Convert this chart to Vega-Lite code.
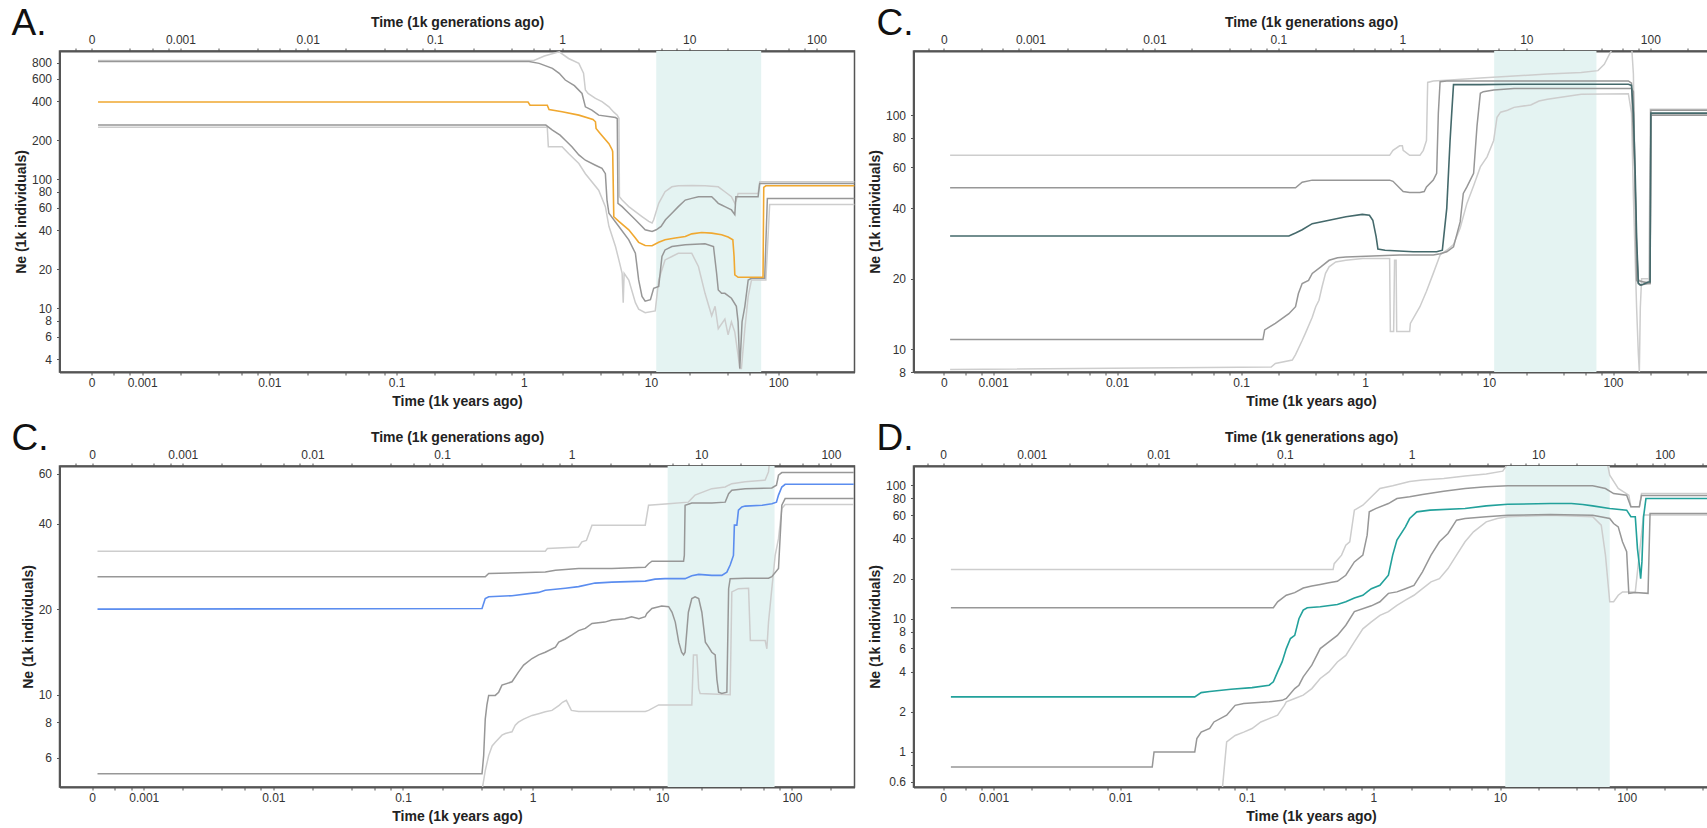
{
"$schema": "https://vega.github.io/schema/vega-lite/v6.json",
"padding": {"left": 10.5, "top": 3, "right": 0, "bottom": 0},
"background": "white",
"columns": 2,
"spacing": {"row": 94, "column": 59},
"bounds": "flush",
"config": {
  "view": {"stroke": "#555555", "strokeWidth": 1.5},
  "axis": {"grid": false, "domainColor": "#555555", "domainWidth": 2, "tickColor": "#555555", "tickWidth": 1, "tickSize": 3,
    "labelFont": "Liberation Sans, Arial, sans-serif", "labelFontSize": 12, "labelColor": "#333333",
    "titleFont": "Liberation Sans, Arial, sans-serif", "titleFontSize": 14, "titleFontWeight": "bold", "titleColor": "#222222",
    "labelOverlap": false, "labelFlush": false},
  "axisY": {"titleFontSize": 14, "labelPadding": 5, "titlePadding": 3},
  "axisBottom": {"labelPadding": 2, "titlePadding": 6},
  "axisTop": {"labelPadding": 1.5, "titlePadding": 4},
  "title": {"anchor": "start", "frame": "group", "fontSize": 37, "fontWeight": "normal", "font": "Liberation Sans, Arial, sans-serif", "color": "#111111", "offset": 0, "baseline": "alphabetic", "dy": 31}
},
"datasets": {
"band": [{"t": 11, "t2": 73.5}],
"A": [
{"s":"m","t":0.00045,"n":396},{"s":"m","t":1.08,"n":396},{"s":"m","t":1.12,"n":374},{"s":"m","t":1.53,"n":374},{"s":"m","t":1.58,"n":346},{"s":"m","t":2.0,"n":333},{"s":"m","t":2.71,"n":313},{"s":"m","t":3.5,"n":290},{"s":"m","t":3.66,"n":278},{"s":"m","t":3.7,"n":247},{"s":"m","t":4.0,"n":225},{"s":"m","t":4.67,"n":188},{"s":"m","t":4.96,"n":168},{"s":"m","t":5.0,"n":163},{"s":"m","t":5.1,"n":51},{"s":"m","t":5.59,"n":46.9},{"s":"m","t":6.69,"n":40.4},{"s":"m","t":7.54,"n":34.9},{"s":"m","t":8.0,"n":32.3},{"s":"m","t":9.0,"n":30.5},{"s":"m","t":10.2,"n":30.4},{"s":"m","t":11.5,"n":32.3},{"s":"m","t":12.9,"n":33.8},{"s":"m","t":15.5,"n":34.9},{"s":"m","t":18.6,"n":35.9},{"s":"m","t":20.9,"n":37.6},{"s":"m","t":25,"n":38.5},{"s":"m","t":30,"n":38.1},{"s":"m","t":35.9,"n":37.0},{"s":"m","t":40.4,"n":35.5},{"s":"m","t":44,"n":33.8},{"s":"m","t":45,"n":25.1},{"s":"m","t":45.6,"n":18.1},{"s":"m","t":48.4,"n":17.3},{"s":"m","t":76.0,"n":17.3},{"s":"m","t":77,"n":86.3},{"s":"m","t":80,"n":88.7},{"s":"m","t":400,"n":88.7},
{"s":"u50","t":0.00045,"n":815},{"s":"u50","t":1.1,"n":815},{"s":"u50","t":1.32,"n":789},{"s":"u50","t":1.68,"n":722},{"s":"u50","t":1.9,"n":661},{"s":"u50","t":2.12,"n":586},{"s":"u50","t":2.5,"n":530},{"s":"u50","t":2.87,"n":461},{"s":"u50","t":3.05,"n":363},{"s":"u50","t":3.43,"n":342},{"s":"u50","t":3.88,"n":313},{"s":"u50","t":5.26,"n":300},{"s":"u50","t":5.43,"n":294},{"s":"u50","t":5.5,"n":64.8},{"s":"u50","t":5.93,"n":61.1},{"s":"u50","t":6.69,"n":54.3},{"s":"u50","t":7.54,"n":48.3},{"s":"u50","t":8.5,"n":42.9},{"s":"u50","t":9.0,"n":40.4},{"s":"u50","t":10.2,"n":39.2},{"s":"u50","t":11.0,"n":40.4},{"s":"u50","t":12.0,"n":42.9},{"s":"u50","t":13.0,"n":48.3},{"s":"u50","t":14.6,"n":54.3},{"s":"u50","t":16.4,"n":61.1},{"s":"u50","t":18.6,"n":68.7},{"s":"u50","t":20.9,"n":70.8},{"s":"u50","t":23.6,"n":72.9},{"s":"u50","t":30,"n":72.9},{"s":"u50","t":31.9,"n":68.7},{"s":"u50","t":33.8,"n":64.8},{"s":"u50","t":35.9,"n":62.9},{"s":"u50","t":38.1,"n":61.1},{"s":"u50","t":42.9,"n":57.6},{"s":"u50","t":45.6,"n":53},{"s":"u50","t":46.5,"n":72.9},{"s":"u50","t":69.5,"n":72.9},{"s":"u50","t":71.6,"n":92.5},{"s":"u50","t":400,"n":92.5},
{"s":"l50","t":0.00045,"n":262},{"s":"l50","t":1.49,"n":262},{"s":"l50","t":1.68,"n":240},{"s":"l50","t":1.93,"n":219},{"s":"l50","t":2.12,"n":200},{"s":"l50","t":2.39,"n":178},{"s":"l50","t":2.71,"n":154},{"s":"l50","t":3.05,"n":140},{"s":"l50","t":3.66,"n":128},{"s":"l50","t":4.12,"n":121},{"s":"l50","t":4.38,"n":110},{"s":"l50","t":4.51,"n":68.7},{"s":"l50","t":4.67,"n":54.3},{"s":"l50","t":5.59,"n":42.9},{"s":"l50","t":6.69,"n":33.8},{"s":"l50","t":7.54,"n":26.6},{"s":"l50","t":8.0,"n":16.5},{"s":"l50","t":8.5,"n":12.3},{"s":"l50","t":9.0,"n":11.3},{"s":"l50","t":9.9,"n":11.6},{"s":"l50","t":10.5,"n":14.2},{"s":"l50","t":11.5,"n":14.7},{"s":"l50","t":12.2,"n":25.1},{"s":"l50","t":12.9,"n":28.2},{"s":"l50","t":14.6,"n":30},{"s":"l50","t":18.6,"n":30.9},{"s":"l50","t":26.6,"n":31.5},{"s":"l50","t":31.0,"n":30},{"s":"l50","t":32.8,"n":18.6},{"s":"l50","t":33.8,"n":13.8},{"s":"l50","t":35.9,"n":13.0},{"s":"l50","t":38.1,"n":13.0},{"s":"l50","t":42.9,"n":11.9},{"s":"l50","t":46.9,"n":10.3},{"s":"l50","t":48.4,"n":7.8},{"s":"l50","t":49.9,"n":3.4},{"s":"l50","t":52.0,"n":7.8},{"s":"l50","t":54.7,"n":10.3},{"s":"l50","t":58.1,"n":16.5},{"s":"l50","t":61.7,"n":17.0},{"s":"l50","t":78.3,"n":17.0},{"s":"l50","t":82.2,"n":70.8},{"s":"l50","t":400,"n":70.8},
{"s":"u95","t":0.00045,"n":830},{"s":"u95","t":1.2,"n":830},{"s":"u95","t":1.45,"n":900},{"s":"u95","t":1.9,"n":970},{"s":"u95","t":2.25,"n":861},{"s":"u95","t":2.71,"n":789},{"s":"u95","t":2.95,"n":661},{"s":"u95","t":3.05,"n":490},{"s":"u95","t":3.2,"n":461},{"s":"u95","t":3.66,"n":422},{"s":"u95","t":4.12,"n":398},{"s":"u95","t":4.67,"n":363},{"s":"u95","t":5.1,"n":330},{"s":"u95","t":5.43,"n":313},{"s":"u95","t":5.6,"n":296},{"s":"u95","t":5.65,"n":72.9},{"s":"u95","t":5.93,"n":68.7},{"s":"u95","t":6.69,"n":61.1},{"s":"u95","t":7.54,"n":55.9},{"s":"u95","t":8.5,"n":51.2},{"s":"u95","t":9.6,"n":46.9},{"s":"u95","t":10.2,"n":45.6},{"s":"u95","t":10.5,"n":48.3},{"s":"u95","t":11.5,"n":64.8},{"s":"u95","t":12.9,"n":79.7},{"s":"u95","t":14.6,"n":87.1},{"s":"u95","t":16.4,"n":88.7},{"s":"u95","t":20.9,"n":89.3},{"s":"u95","t":26.6,"n":88.7},{"s":"u95","t":33.8,"n":87.1},{"s":"u95","t":38.1,"n":79.7},{"s":"u95","t":42.9,"n":72.9},{"s":"u95","t":45.6,"n":64.8},{"s":"u95","t":46.9,"n":68.7},{"s":"u95","t":48.4,"n":77.4},{"s":"u95","t":69.5,"n":77.4},{"s":"u95","t":71.6,"n":95.3},{"s":"u95","t":400,"n":95.3},
{"s":"l95","t":0.00045,"n":252},{"s":"l95","t":1.53,"n":252},{"s":"l95","t":1.56,"n":178},{"s":"l95","t":2.0,"n":178},{"s":"l95","t":2.25,"n":158},{"s":"l95","t":2.71,"n":132},{"s":"l95","t":3.05,"n":110},{"s":"l95","t":3.88,"n":82},{"s":"l95","t":4.38,"n":61},{"s":"l95","t":4.67,"n":43},{"s":"l95","t":5.26,"n":30},{"s":"l95","t":5.59,"n":23.6},{"s":"l95","t":5.93,"n":18.6},{"s":"l95","t":6.05,"n":11},{"s":"l95","t":6.15,"n":18.6},{"s":"l95","t":6.69,"n":16.5},{"s":"l95","t":7.54,"n":11},{"s":"l95","t":8.0,"n":9.8},{"s":"l95","t":9.0,"n":9.2},{"s":"l95","t":10.8,"n":9.5},{"s":"l95","t":11.5,"n":16.5},{"s":"l95","t":12.9,"n":23.6},{"s":"l95","t":14.6,"n":25.1},{"s":"l95","t":16.4,"n":26.6},{"s":"l95","t":20.9,"n":26.6},{"s":"l95","t":23.6,"n":21},{"s":"l95","t":26.6,"n":13},{"s":"l95","t":30,"n":8.7},{"s":"l95","t":31.9,"n":10.3},{"s":"l95","t":33.8,"n":6.9},{"s":"l95","t":38.1,"n":8.2},{"s":"l95","t":40.4,"n":6.2},{"s":"l95","t":42.9,"n":7.8},{"s":"l95","t":45.6,"n":6.5},{"s":"l95","t":48.4,"n":4.3},{"s":"l95","t":49.9,"n":3.4},{"s":"l95","t":51.4,"n":3.4},{"s":"l95","t":54.7,"n":6.9},{"s":"l95","t":58.1,"n":12.3},{"s":"l95","t":61.7,"n":16.5},{"s":"l95","t":80,"n":16.5},{"s":"l95","t":85.7,"n":63.6},{"s":"l95","t":400,"n":63.6}
],
"C1": [
{"s":"m","t":0.00045,"n":30.5},{"s":"m","t":0.243,"n":30.5},{"s":"m","t":0.275,"n":31.4},{"s":"m","t":0.311,"n":32.4},{"s":"m","t":0.375,"n":34.4},{"s":"m","t":0.513,"n":35.6},{"s":"m","t":0.701,"n":36.8},{"s":"m","t":0.95,"n":37.7},{"s":"m","t":1.085,"n":37.4},{"s":"m","t":1.155,"n":35.6},{"s":"m","t":1.229,"n":30.2},{"s":"m","t":1.27,"n":26.8},{"s":"m","t":1.45,"n":26.5},{"s":"m","t":2.44,"n":26.1},{"s":"m","t":3.78,"n":26.1},{"s":"m","t":4.2,"n":26.5},{"s":"m","t":4.29,"n":29.5},{"s":"m","t":4.56,"n":40},{"s":"m","t":4.85,"n":78},{"s":"m","t":5.0,"n":102},{"s":"m","t":5.17,"n":135},{"s":"m","t":5.5,"n":135},{"s":"m","t":8.51,"n":135},{"s":"m","t":15.9,"n":135.5},{"s":"m","t":55.4,"n":135.5},{"s":"m","t":133,"n":135.5},{"s":"m","t":141,"n":134},{"s":"m","t":146,"n":102},{"s":"m","t":151,"n":56.4},{"s":"m","t":155,"n":30.2},{"s":"m","t":160,"n":19.1},{"s":"m","t":168,"n":18.8},{"s":"m","t":193,"n":19.4},{"s":"m","t":199,"n":19.4},{"s":"m","t":202,"n":102},{"s":"m","t":600,"n":102},
{"s":"u50","t":0.00045,"n":49},{"s":"u50","t":0.275,"n":49},{"s":"u50","t":0.311,"n":51.7},{"s":"u50","t":0.375,"n":52.8},{"s":"u50","t":1.578,"n":52.8},{"s":"u50","t":1.68,"n":52.2},{"s":"u50","t":1.9,"n":48.9},{"s":"u50","t":2.03,"n":47.2},{"s":"u50","t":2.29,"n":46.8},{"s":"u50","t":2.77,"n":46.8},{"s":"u50","t":3.0,"n":47.2},{"s":"u50","t":3.13,"n":49.4},{"s":"u50","t":3.55,"n":52.8},{"s":"u50","t":3.78,"n":56.4},{"s":"u50","t":3.9,"n":102},{"s":"u50","t":4.03,"n":139},{"s":"u50","t":4.56,"n":140},{"s":"u50","t":8.51,"n":140},{"s":"u50","t":133,"n":140},{"s":"u50","t":141,"n":137},{"s":"u50","t":146,"n":78},{"s":"u50","t":150,"n":56.4},{"s":"u50","t":155,"n":19.7},{"s":"u50","t":165,"n":18.8},{"s":"u50","t":193,"n":19.1},{"s":"u50","t":199,"n":19.1},{"s":"u50","t":202,"n":105},{"s":"u50","t":600,"n":105},
{"s":"u95","t":0.00045,"n":67.4},{"s":"u95","t":1.578,"n":67.4},{"s":"u95","t":1.68,"n":70.8},{"s":"u95","t":1.9,"n":74},{"s":"u95","t":2.0,"n":74},{"s":"u95","t":2.03,"n":70.8},{"s":"u95","t":2.29,"n":67.4},{"s":"u95","t":2.77,"n":67.4},{"s":"u95","t":2.95,"n":70.8},{"s":"u95","t":3.13,"n":78},{"s":"u95","t":3.2,"n":138},{"s":"u95","t":3.55,"n":140},{"s":"u95","t":4.56,"n":141},{"s":"u95","t":8.51,"n":144},{"s":"u95","t":15.9,"n":147},{"s":"u95","t":29.6,"n":150},{"s":"u95","t":55.4,"n":152},{"s":"u95","t":75.6,"n":155},{"s":"u95","t":85,"n":165},{"s":"u95","t":95,"n":185},{"s":"u95","t":103,"n":200},{"s":"u95","t":141,"n":200},{"s":"u95","t":146,"n":150},{"s":"u95","t":150,"n":60},{"s":"u95","t":155,"n":25},{"s":"u95","t":160,"n":20},{"s":"u95","t":165,"n":19.5},{"s":"u95","t":195,"n":19.5},{"s":"u95","t":200,"n":106},{"s":"u95","t":600,"n":106},
{"s":"l50","t":0.00045,"n":11.0},{"s":"l50","t":0.15,"n":11.0},{"s":"l50","t":0.155,"n":12.1},{"s":"l50","t":0.189,"n":12.9},{"s":"l50","t":0.243,"n":14.2},{"s":"l50","t":0.275,"n":15.2},{"s":"l50","t":0.29,"n":17.3},{"s":"l50","t":0.311,"n":19.1},{"s":"l50","t":0.35,"n":19.7},{"s":"l50","t":0.375,"n":21.1},{"s":"l50","t":0.44,"n":22.5},{"s":"l50","t":0.513,"n":24},{"s":"l50","t":0.6,"n":24.6},{"s":"l50","t":0.701,"n":24.8},{"s":"l50","t":1.9,"n":25.3},{"s":"l50","t":3.55,"n":25.3},{"s":"l50","t":4.03,"n":25.6},{"s":"l50","t":4.56,"n":26.1},{"s":"l50","t":5.17,"n":27.4},{"s":"l50","t":5.85,"n":35},{"s":"l50","t":6.2,"n":46.3},{"s":"l50","t":6.63,"n":49.4},{"s":"l50","t":7.51,"n":56.4},{"s":"l50","t":8.0,"n":90},{"s":"l50","t":8.51,"n":124},{"s":"l50","t":9.0,"n":126},{"s":"l50","t":10.9,"n":128},{"s":"l50","t":15.9,"n":130},{"s":"l50","t":141,"n":130},{"s":"l50","t":146,"n":126},{"s":"l50","t":150,"n":56.4},{"s":"l50","t":155,"n":27.4},{"s":"l50","t":160,"n":19.7},{"s":"l50","t":193,"n":19.1},{"s":"l50","t":199,"n":19.1},{"s":"l50","t":202,"n":100},{"s":"l50","t":600,"n":100},
{"s":"l95","t":0.00045,"n":8.2},{"s":"l95","t":0.175,"n":8.4},{"s":"l95","t":0.189,"n":8.7},{"s":"l95","t":0.259,"n":9.0},{"s":"l95","t":0.275,"n":9.5},{"s":"l95","t":0.311,"n":10.9},{"s":"l95","t":0.33,"n":11.7},{"s":"l95","t":0.375,"n":13.7},{"s":"l95","t":0.40,"n":15.2},{"s":"l95","t":0.425,"n":16.2},{"s":"l95","t":0.45,"n":18.5},{"s":"l95","t":0.48,"n":21.1},{"s":"l95","t":0.513,"n":22.5},{"s":"l95","t":0.58,"n":23.6},{"s":"l95","t":0.70,"n":24.0},{"s":"l95","t":0.96,"n":24.4},{"s":"l95","t":1.578,"n":24.4},{"s":"l95","t":1.6,"n":11.9},{"s":"l95","t":1.7,"n":11.9},{"s":"l95","t":1.73,"n":24.0},{"s":"l95","t":1.78,"n":24.0},{"s":"l95","t":1.8,"n":11.9},{"s":"l95","t":2.29,"n":11.9},{"s":"l95","t":2.32,"n":12.9},{"s":"l95","t":2.77,"n":15.2},{"s":"l95","t":3.13,"n":17.7},{"s":"l95","t":3.55,"n":21.1},{"s":"l95","t":4.03,"n":25.3},{"s":"l95","t":4.56,"n":26.5},{"s":"l95","t":5.17,"n":28},{"s":"l95","t":5.85,"n":33},{"s":"l95","t":6.63,"n":42},{"s":"l95","t":7.51,"n":50},{"s":"l95","t":8.51,"n":60.1},{"s":"l95","t":9.64,"n":66.4},{"s":"l95","t":10.9,"n":78},{"s":"l95","t":11.6,"n":98},{"s":"l95","t":12.4,"n":103},{"s":"l95","t":14.1,"n":105},{"s":"l95","t":15.9,"n":108},{"s":"l95","t":21.7,"n":110.6},{"s":"l95","t":25.3,"n":115},{"s":"l95","t":29.6,"n":117},{"s":"l95","t":40.5,"n":120},{"s":"l95","t":55.4,"n":123},{"s":"l95","t":133,"n":123.6},{"s":"l95","t":141,"n":102},{"s":"l95","t":146,"n":45},{"s":"l95","t":155,"n":15},{"s":"l95","t":160,"n":9.6},{"s":"l95","t":163,"n":8.0},{"s":"l95","t":166,"n":15},{"s":"l95","t":170,"n":20},{"s":"l95","t":199,"n":20},{"s":"l95","t":202,"n":101},{"s":"l95","t":600,"n":101}
],
"C2": [
{"s":"m","t":0.00044,"n":20.0},{"s":"m","t":0.407,"n":20.1},{"s":"m","t":0.431,"n":21.8},{"s":"m","t":0.458,"n":22.1},{"s":"m","t":0.693,"n":22.3},{"s":"m","t":1.112,"n":22.9},{"s":"m","t":1.252,"n":23.3},{"s":"m","t":1.786,"n":23.7},{"s":"m","t":2.26,"n":24.0},{"s":"m","t":3.03,"n":24.7},{"s":"m","t":4.09,"n":24.9},{"s":"m","t":7.39,"n":25.1},{"s":"m","t":8.8,"n":25.5},{"s":"m","t":10.5,"n":25.6},{"s":"m","t":15.0,"n":25.6},{"s":"m","t":16.9,"n":26.2},{"s":"m","t":19.1,"n":26.5},{"s":"m","t":24.1,"n":26.3},{"s":"m","t":28.8,"n":26.3},{"s":"m","t":31.5,"n":27.0},{"s":"m","t":33.4,"n":28.6},{"s":"m","t":35.4,"n":30.9},{"s":"m","t":36.0,"n":39.5},{"s":"m","t":37.6,"n":39.5},{"s":"m","t":38.7,"n":44.6},{"s":"m","t":41.1,"n":45.8},{"s":"m","t":43.6,"n":46.1},{"s":"m","t":59,"n":46.4},{"s":"m","t":70,"n":47},{"s":"m","t":76,"n":47.6},{"s":"m","t":78.8,"n":50.4},{"s":"m","t":83.6,"n":53.8},{"s":"m","t":88.7,"n":55},{"s":"m","t":300,"n":55},
{"s":"u50","t":0.00044,"n":26.0},{"s":"u50","t":0.431,"n":26.0},{"s":"u50","t":0.458,"n":26.7},{"s":"u50","t":1.252,"n":27.0},{"s":"u50","t":1.5,"n":27.4},{"s":"u50","t":2.26,"n":27.8},{"s":"u50","t":4.09,"n":27.8},{"s":"u50","t":7.39,"n":28.1},{"s":"u50","t":7.84,"n":28.9},{"s":"u50","t":8.32,"n":29.5},{"s":"u50","t":14.6,"n":29.5},{"s":"u50","t":14.8,"n":30.9},{"s":"u50","t":15.0,"n":46.4},{"s":"u50","t":16.9,"n":47.3},{"s":"u50","t":24.1,"n":47.3},{"s":"u50","t":30.6,"n":47.6},{"s":"u50","t":32.5,"n":51},{"s":"u50","t":34.4,"n":52.4},{"s":"u50","t":43.6,"n":53.1},{"s":"u50","t":70,"n":53.4},{"s":"u50","t":76,"n":54.6},{"s":"u50","t":78.8,"n":59.2},{"s":"u50","t":83.6,"n":60.5},{"s":"u50","t":300,"n":60.5},
{"s":"u95","t":0.00044,"n":32.0},{"s":"u95","t":1.252,"n":32.0},{"s":"u95","t":1.3,"n":32.7},{"s":"u95","t":2.26,"n":33.1},{"s":"u95","t":2.4,"n":34.5},{"s":"u95","t":2.6,"n":34.9},{"s":"u95","t":2.87,"n":39.5},{"s":"u95","t":7.39,"n":39.5},{"s":"u95","t":7.84,"n":46.4},{"s":"u95","t":11.2,"n":47},{"s":"u95","t":15.9,"n":47.6},{"s":"u95","t":17.9,"n":50.4},{"s":"u95","t":24.1,"n":53.1},{"s":"u95","t":30.6,"n":53.8},{"s":"u95","t":32.5,"n":54.6},{"s":"u95","t":34.4,"n":55.3},{"s":"u95","t":43.6,"n":56.1},{"s":"u95","t":62.2,"n":56.9},{"s":"u95","t":66,"n":60.8},{"s":"u95","t":68,"n":70},{"s":"u95","t":300,"n":70},
{"s":"l50","t":0.00044,"n":5.27},{"s":"l50","t":0.407,"n":5.27},{"s":"l50","t":0.419,"n":6.1},{"s":"l50","t":0.431,"n":8.2},{"s":"l50","t":0.444,"n":9.2},{"s":"l50","t":0.458,"n":9.94},{"s":"l50","t":0.515,"n":9.94},{"s":"l50","t":0.547,"n":10.2},{"s":"l50","t":0.58,"n":10.8},{"s":"l50","t":0.693,"n":11.1},{"s":"l50","t":0.777,"n":12.0},{"s":"l50","t":0.852,"n":12.7},{"s":"l50","t":0.99,"n":13.4},{"s":"l50","t":1.112,"n":13.8},{"s":"l50","t":1.252,"n":14.1},{"s":"l50","t":1.5,"n":14.7},{"s":"l50","t":1.59,"n":15.3},{"s":"l50","t":1.786,"n":15.7},{"s":"l50","t":2.0,"n":16.2},{"s":"l50","t":2.26,"n":16.8},{"s":"l50","t":2.55,"n":17.1},{"s":"l50","t":2.87,"n":17.8},{"s":"l50","t":3.6,"n":18.0},{"s":"l50","t":4.09,"n":18.3},{"s":"l50","t":5.15,"n":18.5},{"s":"l50","t":5.8,"n":18.8},{"s":"l50","t":6.6,"n":18.5},{"s":"l50","t":7.39,"n":18.8},{"s":"l50","t":7.6,"n":19.3},{"s":"l50","t":8.32,"n":20.1},{"s":"l50","t":9.9,"n":20.5},{"s":"l50","t":11.2,"n":20.4},{"s":"l50","t":11.9,"n":19.5},{"s":"l50","t":12.6,"n":18.0},{"s":"l50","t":13.4,"n":15.3},{"s":"l50","t":14.1,"n":14.1},{"s":"l50","t":14.6,"n":13.8},{"s":"l50","t":15.0,"n":14.1},{"s":"l50","t":15.9,"n":19.5},{"s":"l50","t":16.9,"n":21.8},{"s":"l50","t":17.9,"n":22.1},{"s":"l50","t":19.1,"n":21.8},{"s":"l50","t":20.2,"n":19.5},{"s":"l50","t":21.5,"n":15.3},{"s":"l50","t":22.8,"n":14.7},{"s":"l50","t":24.1,"n":14.1},{"s":"l50","t":25.6,"n":13.8},{"s":"l50","t":26.4,"n":11.3},{"s":"l50","t":27.2,"n":10.2},{"s":"l50","t":28.8,"n":10.1},{"s":"l50","t":31.5,"n":10.2},{"s":"l50","t":32.5,"n":23.6},{"s":"l50","t":33.4,"n":25.6},{"s":"l50","t":43.6,"n":25.7},{"s":"l50","t":66,"n":25.7},{"s":"l50","t":70,"n":26},{"s":"l50","t":78.8,"n":27.8},{"s":"l50","t":83.6,"n":46.4},{"s":"l50","t":88.7,"n":49},{"s":"l50","t":300,"n":49},
{"s":"l95","t":0.00044,"n":4.0},{"s":"l95","t":0.4,"n":4.0},{"s":"l95","t":0.407,"n":4.6},{"s":"l95","t":0.431,"n":5.4},{"s":"l95","t":0.458,"n":6.1},{"s":"l95","t":0.487,"n":6.6},{"s":"l95","t":0.515,"n":6.8},{"s":"l95","t":0.58,"n":7.2},{"s":"l95","t":0.616,"n":7.3},{"s":"l95","t":0.693,"n":7.4},{"s":"l95","t":0.734,"n":7.8},{"s":"l95","t":0.777,"n":8.0},{"s":"l95","t":0.852,"n":8.2},{"s":"l95","t":0.99,"n":8.45},{"s":"l95","t":1.112,"n":8.57},{"s":"l95","t":1.252,"n":8.7},{"s":"l95","t":1.41,"n":8.8},{"s":"l95","t":1.6,"n":9.17},{"s":"l95","t":1.7,"n":9.4},{"s":"l95","t":1.82,"n":9.55},{"s":"l95","t":1.99,"n":8.8},{"s":"l95","t":2.26,"n":8.73},{"s":"l95","t":7.39,"n":8.73},{"s":"l95","t":7.84,"n":8.8},{"s":"l95","t":9.37,"n":9.2},{"s":"l95","t":16.9,"n":9.2},{"s":"l95","t":17.4,"n":13.8},{"s":"l95","t":18.5,"n":13.8},{"s":"l95","t":19.1,"n":10.5},{"s":"l95","t":19.6,"n":10.1},{"s":"l95","t":33.4,"n":10.0},{"s":"l95","t":34.4,"n":23.0},{"s":"l95","t":38.7,"n":23.6},{"s":"l95","t":46.3,"n":23.7},{"s":"l95","t":47.8,"n":15.5},{"s":"l95","t":62.2,"n":15.5},{"s":"l95","t":64.1,"n":14.5},{"s":"l95","t":66,"n":18},{"s":"l95","t":70,"n":23.6},{"s":"l95","t":74.3,"n":30.9},{"s":"l95","t":78.8,"n":35.4},{"s":"l95","t":83.6,"n":45.2},{"s":"l95","t":88.7,"n":46.7},{"s":"l95","t":300,"n":46.7}
],
"D": [
{"s":"m","t":0.00046,"n":2.59},{"s":"m","t":0.0388,"n":2.59},{"s":"m","t":0.0436,"n":2.79},{"s":"m","t":0.0509,"n":2.84},{"s":"m","t":0.0749,"n":2.96},{"s":"m","t":0.11,"n":3.04},{"s":"m","t":0.15,"n":3.17},{"s":"m","t":0.162,"n":3.36},{"s":"m","t":0.175,"n":3.99},{"s":"m","t":0.19,"n":4.74},{"s":"m","t":0.205,"n":5.97},{"s":"m","t":0.221,"n":7.1},{"s":"m","t":0.239,"n":7.5},{"s":"m","t":0.258,"n":10.0},{"s":"m","t":0.279,"n":11.6},{"s":"m","t":0.30,"n":12.1},{"s":"m","t":0.38,"n":12.3},{"s":"m","t":0.519,"n":12.8},{"s":"m","t":0.605,"n":13.4},{"s":"m","t":0.707,"n":14.3},{"s":"m","t":0.825,"n":15.0},{"s":"m","t":0.892,"n":15.9},{"s":"m","t":0.963,"n":16.8},{"s":"m","t":1.125,"n":17.8},{"s":"m","t":1.313,"n":21.2},{"s":"m","t":1.419,"n":30},{"s":"m","t":1.533,"n":38.9},{"s":"m","t":1.789,"n":48.9},{"s":"m","t":1.933,"n":56.5},{"s":"m","t":2.2,"n":63.4},{"s":"m","t":2.8,"n":65.3},{"s":"m","t":5.29,"n":67.1},{"s":"m","t":7.78,"n":70.3},{"s":"m","t":11.5,"n":72.3},{"s":"m","t":24.9,"n":73.2},{"s":"m","t":36.6,"n":73.2},{"s":"m","t":45,"n":71.9},{"s":"m","t":53.9,"n":70.3},{"s":"m","t":73.5,"n":67.1},{"s":"m","t":100,"n":65.3},{"s":"m","t":108,"n":58.2},{"s":"m","t":117,"n":58.2},{"s":"m","t":121.7,"n":33.6},{"s":"m","t":126,"n":25.2},{"s":"m","t":129,"n":20.0},{"s":"m","t":132,"n":26.7},{"s":"m","t":136,"n":58.2},{"s":"m","t":142,"n":79.8},{"s":"m","t":450,"n":79.8},
{"s":"u50","t":0.00046,"n":12.1},{"s":"u50","t":0.162,"n":12.1},{"s":"u50","t":0.175,"n":13.4},{"s":"u50","t":0.205,"n":15.0},{"s":"u50","t":0.239,"n":15.7},{"s":"u50","t":0.279,"n":17.0},{"s":"u50","t":0.326,"n":17.6},{"s":"u50","t":0.38,"n":18.1},{"s":"u50","t":0.445,"n":18.6},{"s":"u50","t":0.519,"n":19.1},{"s":"u50","t":0.605,"n":21.2},{"s":"u50","t":0.707,"n":26.7},{"s":"u50","t":0.825,"n":30.0},{"s":"u50","t":0.892,"n":42.4},{"s":"u50","t":0.927,"n":63.4},{"s":"u50","t":1.04,"n":67.1},{"s":"u50","t":1.313,"n":73.2},{"s":"u50","t":1.533,"n":79.8},{"s":"u50","t":1.933,"n":82.2},{"s":"u50","t":2.44,"n":85.5},{"s":"u50","t":3.59,"n":90.6},{"s":"u50","t":5.29,"n":94.9},{"s":"u50","t":7.78,"n":97.7},{"s":"u50","t":11.5,"n":99.4},{"s":"u50","t":53.9,"n":99.4},{"s":"u50","t":68,"n":94.9},{"s":"u50","t":78.9,"n":87},{"s":"u50","t":100,"n":84.6},{"s":"u50","t":108,"n":69.1},{"s":"u50","t":126,"n":69.1},{"s":"u50","t":131,"n":84},{"s":"u50","t":450,"n":84},
{"s":"l50","t":0.00046,"n":0.77},{"s":"l50","t":0.0179,"n":0.77},{"s":"l50","t":0.0185,"n":1.0},{"s":"l50","t":0.0388,"n":1.0},{"s":"l50","t":0.0403,"n":1.26},{"s":"l50","t":0.0436,"n":1.41},{"s":"l50","t":0.0509,"n":1.5},{"s":"l50","t":0.055,"n":1.68},{"s":"l50","t":0.0693,"n":1.89},{"s":"l50","t":0.0809,"n":2.24},{"s":"l50","t":0.0945,"n":2.31},{"s":"l50","t":0.15,"n":2.38},{"s":"l50","t":0.19,"n":2.44},{"s":"l50","t":0.205,"n":2.52},{"s":"l50","t":0.239,"n":2.99},{"s":"l50","t":0.258,"n":3.17},{"s":"l50","t":0.279,"n":3.66},{"s":"l50","t":0.326,"n":4.48},{"s":"l50","t":0.38,"n":5.97},{"s":"l50","t":0.445,"n":6.7},{"s":"l50","t":0.519,"n":7.5},{"s":"l50","t":0.605,"n":8.94},{"s":"l50","t":0.707,"n":11.3},{"s":"l50","t":0.963,"n":12.5},{"s":"l50","t":1.125,"n":13.4},{"s":"l50","t":1.313,"n":15.5},{"s":"l50","t":1.533,"n":15.9},{"s":"l50","t":1.789,"n":16.8},{"s":"l50","t":2.09,"n":17.8},{"s":"l50","t":2.44,"n":22.5},{"s":"l50","t":2.85,"n":30},{"s":"l50","t":3.32,"n":37.8},{"s":"l50","t":3.88,"n":43.6},{"s":"l50","t":4.53,"n":54.9},{"s":"l50","t":5.29,"n":56.5},{"s":"l50","t":7.78,"n":58.2},{"s":"l50","t":11.5,"n":59.8},{"s":"l50","t":24.9,"n":60.5},{"s":"l50","t":53.9,"n":59.8},{"s":"l50","t":73.5,"n":56.5},{"s":"l50","t":78.9,"n":51.8},{"s":"l50","t":85.8,"n":48.9},{"s":"l50","t":92.7,"n":37.8},{"s":"l50","t":100,"n":31.8},{"s":"l50","t":104,"n":15.5},{"s":"l50","t":117,"n":15.7},{"s":"l50","t":147.5,"n":15.5},{"s":"l50","t":153,"n":61.6},{"s":"l50","t":450,"n":61.6},
{"s":"u95","t":0.00046,"n":23.4},{"s":"u95","t":0.48,"n":23.4},{"s":"u95","t":0.49,"n":25.9},{"s":"u95","t":0.56,"n":30.0},{"s":"u95","t":0.605,"n":35.6},{"s":"u95","t":0.65,"n":37.8},{"s":"u95","t":0.707,"n":65.3},{"s":"u95","t":0.825,"n":71.1},{"s":"u95","t":1.125,"n":94.9},{"s":"u95","t":1.419,"n":99.4},{"s":"u95","t":1.933,"n":107},{"s":"u95","t":2.44,"n":110},{"s":"u95","t":3.59,"n":113},{"s":"u95","t":5.29,"n":118},{"s":"u95","t":7.78,"n":122},{"s":"u95","t":10.5,"n":128},{"s":"u95","t":11.5,"n":145},{"s":"u95","t":70,"n":150},{"s":"u95","t":73.5,"n":119.5},{"s":"u95","t":85.8,"n":94.9},{"s":"u95","t":104,"n":84.6},{"s":"u95","t":108,"n":69.1},{"s":"u95","t":126,"n":69.1},{"s":"u95","t":131,"n":87},{"s":"u95","t":450,"n":87},
{"s":"l95","t":0.00046,"n":0.4},{"s":"l95","t":0.06,"n":0.4},{"s":"l95","t":0.0642,"n":0.54},{"s":"l95","t":0.0693,"n":1.19},{"s":"l95","t":0.0809,"n":1.33},{"s":"l95","t":0.0945,"n":1.41},{"s":"l95","t":0.11,"n":1.5},{"s":"l95","t":0.129,"n":1.68},{"s":"l95","t":0.15,"n":1.78},{"s":"l95","t":0.175,"n":1.89},{"s":"l95","t":0.198,"n":2.24},{"s":"l95","t":0.205,"n":2.38},{"s":"l95","t":0.239,"n":2.52},{"s":"l95","t":0.279,"n":2.67},{"s":"l95","t":0.326,"n":2.99},{"s":"l95","t":0.38,"n":3.56},{"s":"l95","t":0.445,"n":3.99},{"s":"l95","t":0.519,"n":4.74},{"s":"l95","t":0.605,"n":5.3},{"s":"l95","t":0.707,"n":6.7},{"s":"l95","t":0.825,"n":8.4},{"s":"l95","t":0.963,"n":9.47},{"s":"l95","t":1.125,"n":10.6},{"s":"l95","t":1.313,"n":11.3},{"s":"l95","t":1.533,"n":12.6},{"s":"l95","t":1.789,"n":13.8},{"s":"l95","t":2.09,"n":15.0},{"s":"l95","t":2.44,"n":16.8},{"s":"l95","t":2.85,"n":18.9},{"s":"l95","t":3.32,"n":20.0},{"s":"l95","t":3.88,"n":23.8},{"s":"l95","t":4.53,"n":30.0},{"s":"l95","t":5.29,"n":37.8},{"s":"l95","t":6.17,"n":44.9},{"s":"l95","t":7.78,"n":53.3},{"s":"l95","t":9.5,"n":56.5},{"s":"l95","t":11.5,"n":58.2},{"s":"l95","t":24.9,"n":59.8},{"s":"l95","t":53.9,"n":58.2},{"s":"l95","t":63,"n":50.4},{"s":"l95","t":68,"n":30},{"s":"l95","t":73.5,"n":13.4},{"s":"l95","t":78.9,"n":13.4},{"s":"l95","t":85.8,"n":15.0},{"s":"l95","t":92.7,"n":15.9},{"s":"l95","t":117,"n":15.9},{"s":"l95","t":136,"n":60},{"s":"l95","t":450,"n":60}
]
},
"concat": [
{
 "width": 795, "height": 321,
 "title": {"text": "A.", "dx": -48},
 "layer": [
  {
   "encoding": {"x": {"field": "t", "type": "quantitative", "scale": {"type": "log", "domain": [0.000224, 398], "nice": false},
     "axis": {"orient": "bottom", "title": "Time (1k years ago)", "values": [0.0004,0.0006,0.0008,0.001,0.002,0.004,0.006,0.008,0.01,0.02,0.04,0.06,0.08,0.1,0.2,0.4,0.6,0.8,1,2,4,6,8,10,20,40,60,80,100,200],
       "labelExpr": "datum.value < 0.0005 ? '0' : (abs(log(datum.value)/LN10 - round(log(datum.value)/LN10)) < 0.01 ? format(datum.value, '~g') : '')"}}},
   "layer": [
    {"data": {"name": "band"}, "mark": {"type": "rect", "color": "#e4f3f2"}, "encoding": {"x2": {"field": "t2"}}},
    {"data": {"name": "A"}, "transform": [{"filter": "datum.s=='u95'||datum.s=='l95'"}], "mark": {"type": "line", "clip": true, "color": "#cdcdcd", "strokeWidth": 1.5},
     "encoding": {"y": {"field": "n", "type": "quantitative", "scale": {"type": "log", "domain": [3.19, 984], "nice": false}, "axis": {"title": "Ne (1k individuals)", "values": [4,6,8,10,20,40,60,80,100,200,400,600,800], "labelExpr": "format(datum.value, '~g')"}}, "detail": {"field": "s"}}},
    {"data": {"name": "A"}, "transform": [{"filter": "datum.s=='u50'||datum.s=='l50'"}], "mark": {"type": "line", "clip": true, "color": "#979797", "strokeWidth": 1.5},
     "encoding": {"y": {"field": "n", "type": "quantitative", "scale": {"type": "log", "domain": [3.19, 984], "nice": false}}, "detail": {"field": "s"}}},
    {"data": {"name": "A"}, "transform": [{"filter": "datum.s=='m'"}], "mark": {"type": "line", "clip": true, "color": "#f0a830", "strokeWidth": 1.6},
     "encoding": {"y": {"field": "n", "type": "quantitative", "scale": {"type": "log", "domain": [3.19, 984], "nice": false}}}}
   ]
  },
  {"data": {"values": [{"g": 1}]}, "mark": {"type": "rule", "opacity": 0},
   "encoding": {"x": {"field": "g", "type": "quantitative", "scale": {"type": "log", "domain": [0.000112, 199], "nice": false},
     "axis": {"orient": "top", "title": "Time (1k generations ago)", "values": [0.00015,0.0002,0.0004,0.0006,0.0008,0.001,0.002,0.004,0.006,0.008,0.01,0.02,0.04,0.06,0.08,0.1,0.2,0.4,0.6,0.8,1,2,4,6,8,10,20,40,60,80,100],
       "labelExpr": "datum.value < 0.00018 ? '' : (datum.value < 0.0003 ? '0' : (abs(log(datum.value)/LN10 - round(log(datum.value)/LN10)) < 0.01 ? format(datum.value, '~g') : ''))"}}}}
 ],
 "resolve": {"scale": {"x": "independent"}}
},
{
 "width": 795, "height": 321,
 "title": {"text": "C.", "dx": -37},
 "layer": [
  {
   "encoding": {"x": {"field": "t", "type": "quantitative", "scale": {"type": "log", "domain": [0.000228, 589], "nice": false},
     "axis": {"orient": "bottom", "title": "Time (1k years ago)", "values": [0.0004,0.0006,0.0008,0.001,0.002,0.004,0.006,0.008,0.01,0.02,0.04,0.06,0.08,0.1,0.2,0.4,0.6,0.8,1,2,4,6,8,10,20,40,60,80,100,200,400],
       "labelExpr": "datum.value < 0.0005 ? '0' : (abs(log(datum.value)/LN10 - round(log(datum.value)/LN10)) < 0.01 ? format(datum.value, '~g') : '')"}}},
   "layer": [
    {"data": {"name": "band"}, "mark": {"type": "rect", "color": "#e4f3f2"}, "encoding": {"x2": {"field": "t2"}}},
    {"data": {"name": "C1"}, "transform": [{"filter": "datum.s=='u95'||datum.s=='l95'"}], "mark": {"type": "line", "clip": true, "color": "#cdcdcd", "strokeWidth": 1.5},
     "encoding": {"y": {"field": "n", "type": "quantitative", "scale": {"type": "log", "domain": [8, 188], "nice": false}, "axis": {"title": "Ne (1k individuals)", "values": [8,10,20,40,60,80,100], "labelExpr": "format(datum.value, '~g')"}}, "detail": {"field": "s"}}},
    {"data": {"name": "C1"}, "transform": [{"filter": "datum.s=='u50'||datum.s=='l50'"}], "mark": {"type": "line", "clip": true, "color": "#979797", "strokeWidth": 1.5},
     "encoding": {"y": {"field": "n", "type": "quantitative", "scale": {"type": "log", "domain": [8, 188], "nice": false}}, "detail": {"field": "s"}}},
    {"data": {"name": "C1"}, "transform": [{"filter": "datum.s=='m'"}], "mark": {"type": "line", "clip": true, "color": "#44696b", "strokeWidth": 1.6},
     "encoding": {"y": {"field": "n", "type": "quantitative", "scale": {"type": "log", "domain": [8, 188], "nice": false}}}}
   ]
  },
  {"data": {"values": [{"g": 1}]}, "mark": {"type": "rule", "opacity": 0},
   "encoding": {"x": {"field": "g", "type": "quantitative", "scale": {"type": "log", "domain": [0.000114, 294.5], "nice": false},
     "axis": {"orient": "top", "title": "Time (1k generations ago)", "values": [0.00015,0.0002,0.0004,0.0006,0.0008,0.001,0.002,0.004,0.006,0.008,0.01,0.02,0.04,0.06,0.08,0.1,0.2,0.4,0.6,0.8,1,2,4,6,8,10,20,40,60,80,100,200],
       "labelExpr": "datum.value < 0.00018 ? '' : (datum.value < 0.0003 ? '0' : (abs(log(datum.value)/LN10 - round(log(datum.value)/LN10)) < 0.01 ? format(datum.value, '~g') : ''))"}}}}
 ],
 "resolve": {"scale": {"x": "independent"}}
},
{
 "width": 795, "height": 321,
 "title": {"text": "C.", "dx": -48},
 "layer": [
  {
   "encoding": {"x": {"field": "t", "type": "quantitative", "scale": {"type": "log", "domain": [0.000224, 304], "nice": false},
     "axis": {"orient": "bottom", "title": "Time (1k years ago)", "values": [0.0004,0.0006,0.0008,0.001,0.002,0.004,0.006,0.008,0.01,0.02,0.04,0.06,0.08,0.1,0.2,0.4,0.6,0.8,1,2,4,6,8,10,20,40,60,80,100,200],
       "labelExpr": "datum.value < 0.0005 ? '0' : (abs(log(datum.value)/LN10 - round(log(datum.value)/LN10)) < 0.01 ? format(datum.value, '~g') : '')"}}},
   "layer": [
    {"data": {"name": "band"}, "mark": {"type": "rect", "color": "#e4f3f2"}, "encoding": {"x2": {"field": "t2"}}},
    {"data": {"name": "C2"}, "transform": [{"filter": "datum.s=='u95'||datum.s=='l95'"}], "mark": {"type": "line", "clip": true, "color": "#cdcdcd", "strokeWidth": 1.5},
     "encoding": {"y": {"field": "n", "type": "quantitative", "scale": {"type": "log", "domain": [4.73, 63.8], "nice": false}, "axis": {"title": "Ne (1k individuals)", "values": [6,8,10,20,40,60], "labelExpr": "format(datum.value, '~g')"}}, "detail": {"field": "s"}}},
    {"data": {"name": "C2"}, "transform": [{"filter": "datum.s=='u50'||datum.s=='l50'"}], "mark": {"type": "line", "clip": true, "color": "#979797", "strokeWidth": 1.5},
     "encoding": {"y": {"field": "n", "type": "quantitative", "scale": {"type": "log", "domain": [4.73, 63.8], "nice": false}}, "detail": {"field": "s"}}},
    {"data": {"name": "C2"}, "transform": [{"filter": "datum.s=='m'"}], "mark": {"type": "line", "clip": true, "color": "#5b8def", "strokeWidth": 1.6},
     "encoding": {"y": {"field": "n", "type": "quantitative", "scale": {"type": "log", "domain": [4.73, 63.8], "nice": false}}}}
   ]
  },
  {"data": {"values": [{"g": 1}]}, "mark": {"type": "rule", "opacity": 0},
   "encoding": {"x": {"field": "g", "type": "quantitative", "scale": {"type": "log", "domain": [0.000112, 152], "nice": false},
     "axis": {"orient": "top", "title": "Time (1k generations ago)", "values": [0.00015,0.0002,0.0004,0.0006,0.0008,0.001,0.002,0.004,0.006,0.008,0.01,0.02,0.04,0.06,0.08,0.1,0.2,0.4,0.6,0.8,1,2,4,6,8,10,20,40,60,80,100],
       "labelExpr": "datum.value < 0.00018 ? '' : (datum.value < 0.0003 ? '0' : (abs(log(datum.value)/LN10 - round(log(datum.value)/LN10)) < 0.01 ? format(datum.value, '~g') : ''))"}}}}
 ],
 "resolve": {"scale": {"x": "independent"}}
},
{
 "width": 795, "height": 321,
 "title": {"text": "D.", "dx": -37},
 "layer": [
  {
   "encoding": {"x": {"field": "t", "type": "quantitative", "scale": {"type": "log", "domain": [0.000233, 443], "nice": false},
     "axis": {"orient": "bottom", "title": "Time (1k years ago)", "values": [0.0004,0.0006,0.0008,0.001,0.002,0.004,0.006,0.008,0.01,0.02,0.04,0.06,0.08,0.1,0.2,0.4,0.6,0.8,1,2,4,6,8,10,20,40,60,80,100,200,400],
       "labelExpr": "datum.value < 0.0005 ? '0' : (abs(log(datum.value)/LN10 - round(log(datum.value)/LN10)) < 0.01 ? format(datum.value, '~g') : '')"}}},
   "layer": [
    {"data": {"name": "band"}, "mark": {"type": "rect", "color": "#e4f3f2"}, "encoding": {"x2": {"field": "t2"}}},
    {"data": {"name": "D"}, "transform": [{"filter": "datum.s=='u95'||datum.s=='l95'"}], "mark": {"type": "line", "clip": true, "color": "#cdcdcd", "strokeWidth": 1.5},
     "encoding": {"y": {"field": "n", "type": "quantitative", "scale": {"type": "log", "domain": [0.546, 140], "nice": false}, "axis": {"title": "Ne (1k individuals)", "values": [0.6,0.8,1,2,4,6,8,10,20,40,60,80,100], "labelExpr": "datum.value == 0.8 ? '' : format(datum.value, '~g')"}}, "detail": {"field": "s"}}},
    {"data": {"name": "D"}, "transform": [{"filter": "datum.s=='u50'||datum.s=='l50'"}], "mark": {"type": "line", "clip": true, "color": "#979797", "strokeWidth": 1.5},
     "encoding": {"y": {"field": "n", "type": "quantitative", "scale": {"type": "log", "domain": [0.546, 140], "nice": false}}, "detail": {"field": "s"}}},
    {"data": {"name": "D"}, "transform": [{"filter": "datum.s=='m'"}], "mark": {"type": "line", "clip": true, "color": "#22a19b", "strokeWidth": 1.6},
     "encoding": {"y": {"field": "n", "type": "quantitative", "scale": {"type": "log", "domain": [0.546, 140], "nice": false}}}}
   ]
  },
  {"data": {"values": [{"g": 1}]}, "mark": {"type": "rule", "opacity": 0},
   "encoding": {"x": {"field": "g", "type": "quantitative", "scale": {"type": "log", "domain": [0.0001165, 221.5], "nice": false},
     "axis": {"orient": "top", "title": "Time (1k generations ago)", "values": [0.00015,0.0002,0.0004,0.0006,0.0008,0.001,0.002,0.004,0.006,0.008,0.01,0.02,0.04,0.06,0.08,0.1,0.2,0.4,0.6,0.8,1,2,4,6,8,10,20,40,60,80,100,200],
       "labelExpr": "datum.value < 0.00018 ? '' : (datum.value < 0.0003 ? '0' : (abs(log(datum.value)/LN10 - round(log(datum.value)/LN10)) < 0.01 ? format(datum.value, '~g') : ''))"}}}}
 ],
 "resolve": {"scale": {"x": "independent"}}
}
]
}
